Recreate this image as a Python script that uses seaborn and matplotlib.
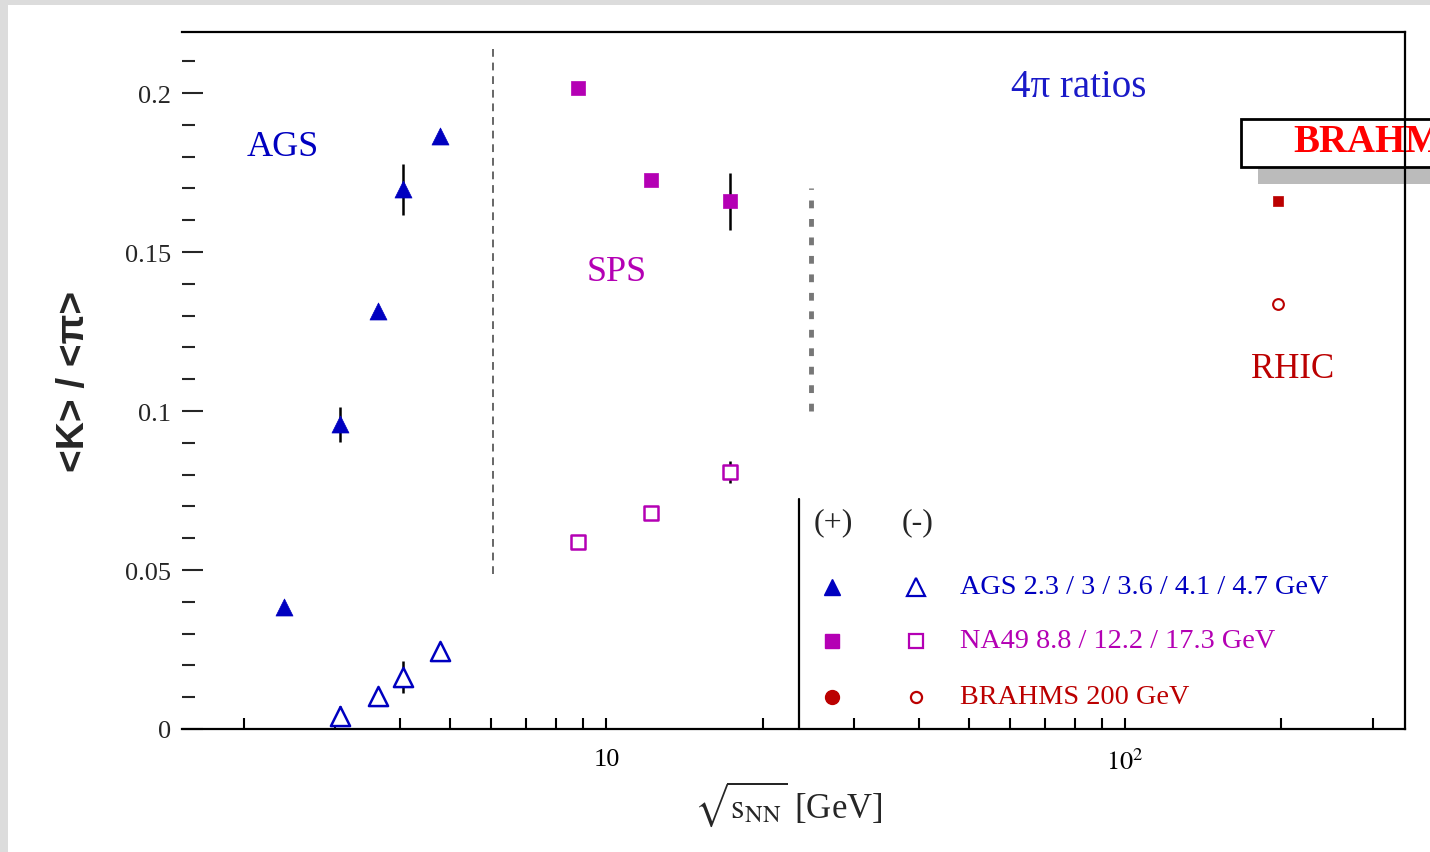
import numpy as np
import pandas as pd
import matplotlib
matplotlib.use("Agg")
import matplotlib.pyplot as plt
import seaborn as sns
from matplotlib.patches import Rectangle
from matplotlib.ticker import FixedLocator, LogLocator, MultipleLocator, NullFormatter

# ---------------- data ----------------
ags_energy = [2.39, 3.07, 3.63, 4.05, 4.78]
ags_kplus = [0.0384, 0.0959, 0.1314, 0.1698, 0.1865]
ags_kplus_err = [0.0, 0.0055, 0.0, 0.008, 0.0]

ags_kminus_energy = [3.07, 3.63, 4.05, 4.78]
ags_kminus = [0.0041, 0.0104, 0.0164, 0.0245]
ags_kminus_err = [0.003, 0.0, 0.005, 0.0]

na49_energy = [8.8, 12.2, 17.3]
na49_kplus = [0.2016, 0.1726, 0.1660]
na49_kplus_err = [0.0, 0.0, 0.009]
na49_kminus = [0.0588, 0.0679, 0.0808]
na49_kminus_err = [0.0, 0.0, 0.0035]

brahms_energy = [197.0]
brahms_kplus = [0.166]
brahms_kminus = [0.1336]

ytick_values = [0, 0.05, 0.1, 0.15, 0.2]
ytick_labels = ["0", "0.05", "0.1", "0.15", "0.2"]
xtick_values = [10, 100]
xtick_labels = ["10", r"$10^2$"]

legend_labels = ["AGS 2.3 / 3 / 3.6 / 4.1 / 4.7 GeV",
                 "NA49 8.8 / 12.2 / 17.3 GeV",
                 "BRAHMS 200 GeV"]

# separators (AGS|SPS and SPS|RHIC)
sep1_x, sep1_y = 6.03, (0.0487, 0.2154)
sep2_x, sep2_y = 24.8, (0.100, 0.170)

BLUE = "#0000c0"
MAG = "#b400b4"
DRED = "#bb0000"

# ---------------- style ----------------
sns.set_style("white")
plt.rcParams["font.family"] = ["Liberation Serif", "DejaVu Serif"]
plt.rcParams["mathtext.fontset"] = "stix"

fig = plt.figure(figsize=(14.3, 8.53), dpi=100)
fig.patch.set_facecolor("#dcdcdc")
fig.patches.append(Rectangle((8 / 1430, 0), 1, (853 - 6) / 853, transform=fig.transFigure,
                             facecolor="white", edgecolor="none", zorder=-10))

ax = fig.add_axes([182 / 1430, (853 - 730) / 853, (1405 - 182) / 1430, (730 - 33) / 853])
ax.set_facecolor("white")

# ---------------- marks ----------------
df_ags_p = pd.DataFrame({"e": ags_energy, "r": ags_kplus})
df_ags_m = pd.DataFrame({"e": ags_kminus_energy, "r": ags_kminus})
df_na_p = pd.DataFrame({"e": na49_energy, "r": na49_kplus})
df_na_m = pd.DataFrame({"e": na49_energy, "r": na49_kminus})
df_br_p = pd.DataFrame({"e": brahms_energy, "r": brahms_kplus})
df_br_m = pd.DataFrame({"e": brahms_energy, "r": brahms_kminus})

ax.errorbar(ags_energy, ags_kplus, yerr=ags_kplus_err, fmt="none", ecolor="black", elinewidth=1.8, capsize=0, zorder=2)
ax.errorbar(ags_kminus_energy, ags_kminus, yerr=ags_kminus_err, fmt="none", ecolor="black", elinewidth=1.8, capsize=0, zorder=2)
ax.errorbar(na49_energy, na49_kplus, yerr=na49_kplus_err, fmt="none", ecolor="black", elinewidth=1.8, capsize=0, zorder=2)
ax.errorbar(na49_energy, na49_kminus, yerr=na49_kminus_err, fmt="none", ecolor="black", elinewidth=1.8, capsize=0, zorder=2)

sns.scatterplot(data=df_ags_p, x="e", y="r", marker="^", s=150, color=BLUE, edgecolor=BLUE, linewidth=0.5, ax=ax, zorder=3)
sns.scatterplot(data=df_ags_m, x="e", y="r", marker="^", s=190, facecolor="white", edgecolor=BLUE, linewidth=1.8, ax=ax, zorder=3)
sns.scatterplot(data=df_na_p, x="e", y="r", marker="s", s=110, color=MAG, edgecolor=MAG, linewidth=0.5, ax=ax, zorder=3)
sns.scatterplot(data=df_na_m, x="e", y="r", marker="s", s=100, facecolor="white", edgecolor=MAG, linewidth=1.8, ax=ax, zorder=3)
sns.scatterplot(data=df_br_p, x="e", y="r", marker="s", s=45, color=DRED, edgecolor=DRED, linewidth=0.5, ax=ax, zorder=3)
sns.scatterplot(data=df_br_m, x="e", y="r", marker="o", s=60, facecolor="white", edgecolor=DRED, linewidth=1.5, ax=ax, zorder=3)

ax.plot([sep1_x, sep1_x], sep1_y, color="#666666", lw=1.4, ls=(0, (4, 3)), zorder=1)
ax.plot([sep2_x, sep2_x], sep2_y, color="#777777", lw=3.5, ls=(0, (1.6, 2.2)), zorder=1)

# ---------------- axes ----------------
ax.set_xscale("log")
ax.set_xlim(1.52, 346)
ax.set_ylim(0, 0.2192)

ax.xaxis.set_major_locator(FixedLocator(xtick_values))
ax.set_xticklabels(xtick_labels)
ax.xaxis.set_minor_locator(LogLocator(base=10, subs=np.arange(2, 10)))
ax.xaxis.set_minor_formatter(NullFormatter())
ax.set_yticks(ytick_values)
ax.set_yticklabels(ytick_labels)
ax.yaxis.set_minor_locator(MultipleLocator(0.01))

ax.tick_params(axis="x", which="both", direction="in", length=8, width=1.5, top=False,
               bottom=True, labelsize=19, pad=14, colors="black")
ax.tick_params(axis="y", which="major", direction="in", length=15, width=1.5, left=True,
               right=False, labelsize=19, pad=8)
ax.tick_params(axis="y", which="minor", direction="in", length=9.5, width=1.5, left=True, right=False)

for side in ["top", "right", "bottom"]:
    ax.spines[side].set_visible(True)
    ax.spines[side].set_color("black")
    ax.spines[side].set_linewidth(1.6)
ax.spines["left"].set_visible(False)

ax.set_xlabel(r"$\sqrt{\mathrm{s}_{\rm NN}}$ [GeV]", fontsize=25)
ax.xaxis.set_label_coords(0.496, -0.071)
ax.set_ylabel("<K> / <π>", fontsize=28, fontweight="bold",
              family=["Liberation Sans", "DejaVu Sans"])
ax.yaxis.set_label_coords(-0.0736, 0.5)

# ---------------- annotations ----------------
ax.text(0.0826, 0.836, "AGS", transform=ax.transAxes, color=BLUE, fontsize=26, ha="center", va="center")
ax.text(0.3557, 0.656, "SPS", transform=ax.transAxes, color=MAG, fontsize=26, ha="center", va="center")
ax.text(0.908, 0.5165, "RHIC", transform=ax.transAxes, color=DRED, fontsize=25, ha="center", va="center")
ax.text(0.733, 0.922, "4π ratios", transform=ax.transAxes, color="#1a1ac8", fontsize=28, ha="center", va="center")

# custom legend block
def fx(px):
    return (px - 182) / 1223

def fy(py):
    return (730 - py) / 697

ax.plot([fx(799), fx(799)], [0, fy(500)], transform=ax.transAxes, color="black", lw=1.6, clip_on=False)
ax.text(fx(833), fy(523), "(+)", transform=ax.transAxes, fontsize=23, ha="center", va="center")
ax.text(fx(918), fy(523), "(-)", transform=ax.transAxes, fontsize=23, ha="center", va="center")

row_y = [fy(588), fy(642), fy(698)]
legend_colors = [BLUE, MAG, DRED]
legend_plus_markers = ["^", "s", "o"]
legend_minus_markers = ["^", "s", "o"]
plus_sizes = [11, 10, 10]
minus_sizes = [13, 10, 8]
for i in range(3):
    ax.plot([fx(832)], [row_y[i]], marker=legend_plus_markers[i], ms=plus_sizes[i],
            color=legend_colors[i], transform=ax.transAxes, clip_on=False, ls="none")
    ax.plot([fx(916)], [row_y[i]], marker=legend_minus_markers[i], ms=minus_sizes[i],
            mfc="white", mec=legend_colors[i], mew=1.6, transform=ax.transAxes, clip_on=False, ls="none")
    ax.text(fx(960), row_y[i], legend_labels[i], transform=ax.transAxes, color=legend_colors[i],
            fontsize=20.3, ha="left", va="center")

# BRAHMS box at top right (cut by the figure edge, as in the reference)
ax.add_patch(Rectangle((1258 / 1430, (853 - 185) / 853), 0.2, 48 / 853, transform=fig.transFigure,
                       facecolor="#bbbbbb", edgecolor="none", clip_on=False, zorder=2))
ax.add_patch(Rectangle((1241 / 1430, (853 - 168) / 853), 0.2, 48 / 853, transform=fig.transFigure,
                       facecolor="white", edgecolor="black", lw=2.0, clip_on=False, zorder=2.1))
ax.text(1293 / 1430, (853 - 143) / 853, "BRAHMS", transform=fig.transFigure, color="#ff0000",
        fontsize=28, fontweight="bold", ha="left", va="center", clip_on=False, zorder=2.2)

fig.savefig("out.png", dpi=100, facecolor=fig.get_facecolor())
